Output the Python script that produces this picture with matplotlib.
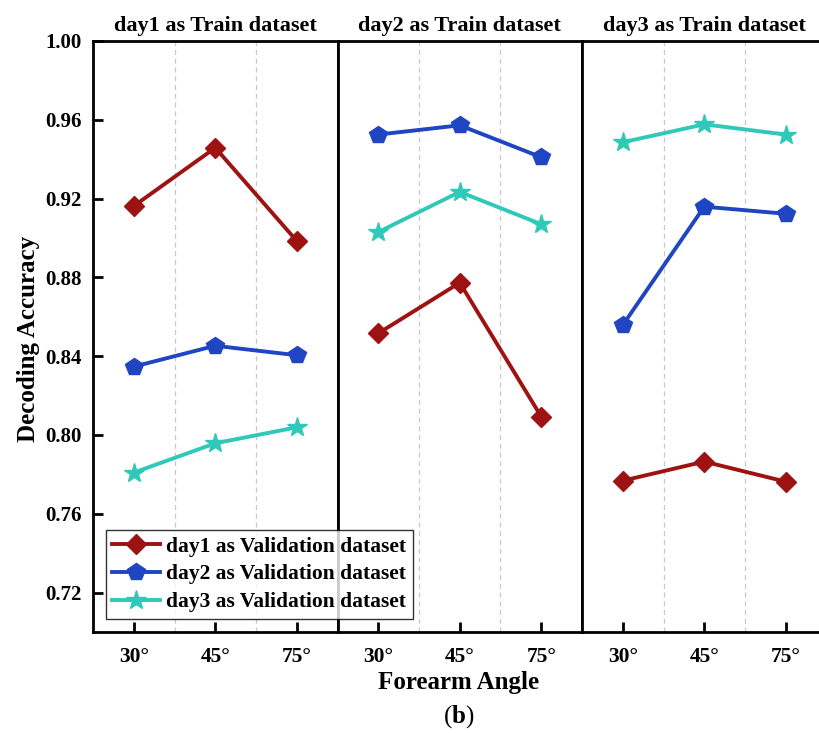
import matplotlib
matplotlib.use("Agg")
import matplotlib.pyplot as plt
from matplotlib.lines import Line2D

plt.rcParams['font.family'] = ['Liberation Serif', 'DejaVu Serif']
plt.rcParams['font.weight'] = 'bold'
plt.rcParams['mathtext.fontset'] = 'custom'
plt.rcParams['mathtext.bf'] = 'Liberation Serif:bold'
plt.rcParams['mathtext.rm'] = 'Liberation Serif'

angles = ["30°", "45°", "75°"]
panel_titles = ["day1 as Train dataset", "day2 as Train dataset", "day3 as Train dataset"]
series_labels = ["day1 as Validation dataset", "day2 as Validation dataset", "day3 as Validation dataset"]

# values[panel][series]
day1_train = {
    "day1": [0.9162, 0.9458, 0.8985],
    "day2": [0.8347, 0.8453, 0.8405],
    "day3": [0.7809, 0.7958, 0.8039],
}
day2_train = {
    "day1": [0.8516, 0.8773, 0.8093],
    "day2": [0.9525, 0.9572, 0.9410],
    "day3": [0.9030, 0.9234, 0.9070],
}
day3_train = {
    "day1": [0.7768, 0.7865, 0.7763],
    "day2": [0.8558, 0.9159, 0.9123],
    "day3": [0.9486, 0.9577, 0.9525],
}
panels = [day1_train, day2_train, day3_train]

series_keys = ["day1", "day2", "day3"]
colors = {"day1": "#9e1212", "day2": "#1f45c2", "day3": "#30c8b8"}
markers = {"day1": "D", "day2": "p", "day3": "*"}
msizes = {"day1": 10, "day2": 13, "day3": 15}

W, H = 819, 733
fig = plt.figure(figsize=(W / 100, H / 100), dpi=100)

pw = 244.5
lefts = [93, 337.5, 582]
bottom = (H - 632) / H
height = 591 / H
axes = []
for i, l in enumerate(lefts):
    ax = fig.add_axes([l / W, bottom, pw / W, height])
    axes.append(ax)
    x = list(range(len(angles)))
    for xv in [0.5, 1.5]:
        ax.axvline(xv, color="#c8c8c8", lw=0.9, ls=(0, (4, 3)), zorder=0)
    for k in series_keys:
        ax.plot(x, panels[i][k], color=colors[k], marker=markers[k],
                markersize=msizes[k], lw=2.8, zorder=3)
    ax.set_xlim(-0.5, 2.5)
    ax.set_ylim(0.70, 1.00)
    ax.set_xticks(x)
    ax.set_xticklabels(angles, fontsize=15.5, fontweight='bold')
    ax.tick_params(axis='x', direction='in', length=7, width=2, pad=11)
    ax.set_yticks([0.72, 0.76, 0.80, 0.84, 0.88, 0.92, 0.96, 1.00])
    if i == 0:
        ax.set_yticklabels([f"{v:.2f}" for v in ax.get_yticks()], fontsize=15, fontweight='bold')
        ax.tick_params(axis='y', direction='in', length=7, width=2, pad=8)
    else:
        ax.tick_params(axis='y', left=False, labelleft=False)
    for s in ax.spines.values():
        s.set_linewidth(2.0)
    ax.set_title(panel_titles[i], fontsize=16, fontweight='bold', pad=7)

fig.text(28 / W, 1 - 339 / H, "Decoding Accuracy", ha='center', va='center',
         rotation=90, fontsize=18, fontweight='bold')
fig.text(459 / W, 1 - 683 / H, "Forearm Angle", ha='center', va='center',
         fontsize=18, fontweight='bold')
fig.text(459 / W, 1 - 717 / H, r"($\mathbf{b}$)", ha='center', va='center',
         fontsize=18, fontweight='normal')

handles = [Line2D([], [], color=colors[k], marker=markers[k], markersize=msizes[k], lw=2.8)
           for k in series_keys]
leg = fig.legend(handles, series_labels, loc='upper left',
                 bbox_to_anchor=(106 / W, 1 - 530 / H),
                 prop={'weight': 'bold', 'size': 15.5},
                 frameon=True, fancybox=False, edgecolor='black',
                 handlelength=2.2, handletextpad=0.3, labelspacing=0.36,
                 borderpad=0.3, borderaxespad=0)
leg.get_frame().set_linewidth(1.0)
leg.set_zorder(10)

fig.savefig("out.png", dpi=100)
